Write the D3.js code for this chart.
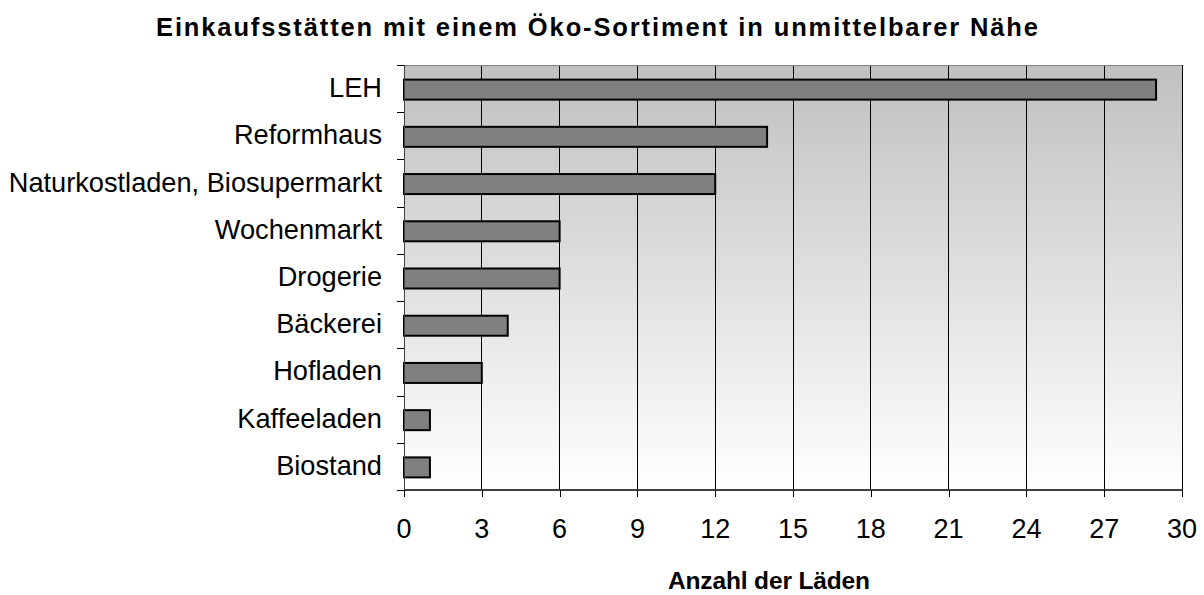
<!DOCTYPE html>
<html><head><meta charset="utf-8">
<script src="https://cdn.jsdelivr.net/npm/d3@7"></script>
<style>body{margin:0;background:#fff}svg{display:block}</style>
</head><body>
<svg id="c" width="1204" height="595"></svg>
<script>
const categories = ["LEH","Reformhaus","Naturkostladen, Biosupermarkt","Wochenmarkt","Drogerie","Bäckerei","Hofladen","Kaffeeladen","Biostand"];
const values = [29,14,12,6,6,4,3,1,1];
const xTicks = [0,3,6,9,12,15,18,21,24,27,30];
const title = "Einkaufsstätten mit einem Öko-Sortiment in unmittelbarer Nähe";
const xTitle = "Anzahl der Läden";

const svg = d3.select("#c");
const L = 404, R = 1182, T = 65, B = 490;
const x = d3.scaleLinear().domain([0,30]).range([L,R]);
const y = d3.scaleBand().domain(categories).range([T,B]);

const defs = svg.append("defs");
const g = defs.append("linearGradient").attr("id","bg").attr("x1",0).attr("y1",0).attr("x2",0).attr("y2",1);
g.append("stop").attr("offset","0%").attr("stop-color","#c0c0c0");
g.append("stop").attr("offset","100%").attr("stop-color","#ffffff");

svg.append("rect").attr("x",L).attr("y",T).attr("width",R-L).attr("height",B-T).attr("fill","url(#bg)");

// grid lines
svg.append("g").selectAll("line").data(xTicks.filter(d=>d>0&&d<30)).join("line")
  .attr("x1",d=>x(d)).attr("x2",d=>x(d)).attr("y1",T).attr("y2",B)
  .attr("stroke","#000").attr("stroke-width",1).attr("shape-rendering","crispEdges");

// frame
svg.append("line").attr("x1",L).attr("x2",R).attr("y1",T+0.5).attr("y2",T+0.5).attr("stroke","#808080");
svg.append("line").attr("x1",R+0.5).attr("x2",R+0.5).attr("y1",T).attr("y2",B).attr("stroke","#000");

// bars
const bh = 20;
svg.append("g").selectAll("rect").data(values).join("rect")
  .attr("x",x(0)).attr("y",(d,i)=>y(categories[i])+y.bandwidth()/2-bh/2+1)
  .attr("width",d=>x(d)-x(0)).attr("height",bh)
  .attr("fill","#808080").attr("stroke","#000").attr("stroke-width",2);

// y axis
const yAxis = svg.append("g");
yAxis.append("line").attr("x1",L+0.5).attr("x2",L+0.5).attr("y1",T).attr("y2",B).attr("stroke","#404040").attr("stroke-width",1);
const yTickPos = d3.range(categories.length+1).map(i=>T+i*y.step());
yAxis.selectAll("line.t").data(yTickPos).join("line").attr("class","t")
  .attr("x1",L-7).attr("x2",L).attr("y1",d=>Math.round(d)+0.5).attr("y2",d=>Math.round(d)+0.5).attr("stroke","#000");
yAxis.selectAll("text").data(categories).join("text")
  .attr("x",382).attr("y",d=>y(d)+y.bandwidth()/2+8.5)
  .attr("text-anchor","end").attr("font-family","Liberation Sans, Arial, sans-serif")
  .attr("font-size","27.2px").attr("fill","#000").text(d=>d);

// x axis
const xAxis = svg.append("g");
xAxis.append("line").attr("x1",L).attr("x2",R+1).attr("y1",B).attr("y2",B).attr("stroke","#404040").attr("stroke-width",2);
xAxis.selectAll("line.t").data(xTicks).join("line").attr("class","t")
  .attr("x1",d=>Math.round(x(d))+0.5).attr("x2",d=>Math.round(x(d))+0.5).attr("y1",B).attr("y2",B+7).attr("stroke","#000");
xAxis.selectAll("text").data(xTicks).join("text")
  .attr("x",d=>x(d)).attr("y",538).attr("text-anchor","middle")
  .attr("font-family","Liberation Sans, Arial, sans-serif").attr("font-size","27px").attr("fill","#000").text(d=>d);

// titles
svg.append("text").attr("x",156).attr("y",36).attr("font-family","Liberation Sans, Arial, sans-serif")
  .attr("font-weight","bold").attr("font-size","25.5px").attr("textLength",882).attr("lengthAdjust","spacing").text(title);
svg.append("text").attr("x",668).attr("y",589).attr("font-family","Liberation Sans, Arial, sans-serif")
  .attr("font-weight","bold").attr("font-size","24.5px").attr("textLength",202).attr("lengthAdjust","spacing").text(xTitle);
</script>
</body></html>
